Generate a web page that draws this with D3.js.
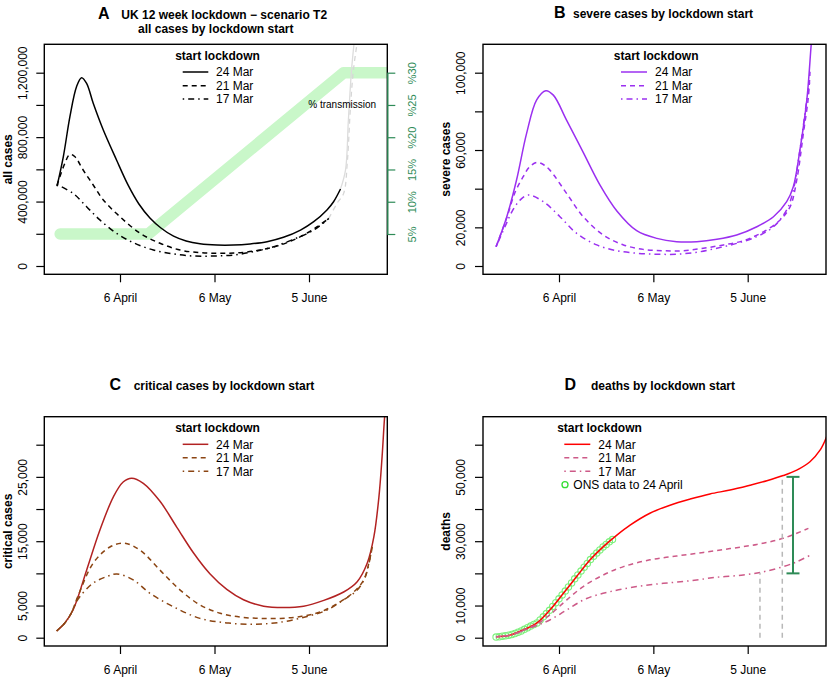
<!DOCTYPE html>
<html><head><meta charset="utf-8">
<script src="https://cdn.jsdelivr.net/npm/d3@7"></script>
<style>body{margin:0;background:#fff}</style>
</head><body><svg id="c" width="829" height="679"></svg>
<script>
// ---------- DATA ----------
// x values are day-of-year 2020 (6 April = 97)
const tickDays = [97, 127, 157];
const tickLabels = ["6 April", "6 May", "5 June"];
const legendLabels = ["24 Mar", "21 Mar", "17 Mar"];
const legendTitle = "start lockdown";

// Panel A: all cases (thousands)
const aDays24 = [77, 79, 81.1, 83.2, 84.8, 86.4, 88.5, 91.7, 95.9, 99.5, 103, 106.5, 110, 114, 118, 122.4, 127.8, 133, 138.3, 143.7, 148.9, 154.3, 158.5, 162.7, 164.8, 167];
const aVals24 = [495, 678, 927, 1113, 1169, 1134, 1010, 844, 658, 505, 385, 298, 236, 185, 155, 138, 130, 130, 137, 151, 178, 223, 275, 348, 399, 478];
const aDays21 = [77, 79.5, 81.1, 82.7, 85.3, 88.5, 91.7, 97, 103.4, 109.7, 116.1, 122.4, 128.8, 135.2, 141.5, 147.9, 154.3, 159.6, 163.3];
const aVals21 = [500, 638, 693, 678, 596, 503, 410, 306, 203, 141, 99, 83, 79, 83, 99, 130, 182, 244, 296];
const aDays17 = [77, 82.1, 86.4, 90.6, 95.9, 101.2, 107.6, 113.9, 120.3, 126.7, 133, 139.4, 145.8, 152.1, 158.5, 163.3];
const aVals17 = [505, 451, 368, 286, 203, 145, 99, 75, 62, 62, 68, 89, 120, 166, 223, 296];
const aGreyDays24 = [167, 168.6, 169.5, 170.5, 171.4];
const aGreyVals24 = [478, 597, 906, 1217, 1400];
const aGreyDays21 = [163.3, 165.9, 168, 169.2, 170.1, 171.1, 172.4];
const aGreyVals21 = [296, 389, 451, 658, 968, 1217, 1400];
const transDays = [78, 106, 168, 190];
const transPct = [5, 5, 30, 30];
const aYTicks = [0, 200, 400, 600, 800, 1000, 1200];
const aYLabels = ["0", "", "400,000", "", "800,000", "", "1,200,000"];
const pctTicks = [5, 10, 15, 20, 25, 30];
const pctLabels = ["5%", "10%", "15%", "%20", "%25", "%30"];

// Panel B: severe cases (thousands)
const bDays24 = [77, 80.4, 83.5, 86.7, 89.9, 92.8, 95.2, 99.4, 104.7, 110, 115.4, 121.7, 128.1, 134.4, 140.8, 147.2, 153.5, 159.9, 165.2, 169.4, 171.5, 173.6, 175.8, 177.2, 178.5];
const bVals24 = [10, 25.5, 44.5, 68.6, 85.9, 90.7, 88.4, 75.5, 58.8, 42, 28.5, 18.3, 14.3, 12.6, 12.6, 13.8, 16, 20.3, 25.5, 33.3, 41, 60, 85.9, 114.7, 140];
const bDays21 = [77, 80.4, 83, 85.6, 87.5, 89.9, 92, 94.1, 99.4, 104.7, 111.1, 117.5, 123.8, 130.2, 136.5, 142.9, 149.3, 155.6, 162, 167.3, 170.5, 172.6, 174.7, 176.3, 176.8];
const bVals21 = [10, 25, 38, 46.2, 51, 53.6, 52.5, 49.6, 37.6, 25.5, 16, 10.9, 8.6, 7.9, 7.9, 9.2, 10.9, 13.1, 17.7, 23.8, 30.7, 44.5, 68.6, 87.6, 100.5];
const bDays17 = [77, 80, 82, 84.6, 87.2, 92, 97.3, 102.6, 109, 115.4, 121.7, 128.1, 134.4, 140.8, 147.2, 153.5, 159.9, 165.2, 169.4, 171.5, 173.6, 175.8, 176.8];
const bVals17 = [10, 21, 28, 34.1, 36.7, 33.3, 25.5, 16.9, 10.9, 7.9, 6.6, 6.1, 6.1, 7.1, 9.2, 11.7, 15.2, 20.3, 29, 39.3, 60, 85.9, 96.2];
const bYTicks = [0, 20, 40, 60, 80, 100];
const bYLabels = ["0", "20,000", "", "60,000", "", "100,000"];

// Panel C: critical cases (thousands)
const cDays24 = [76.9, 79.5, 82.1, 86.4, 90.6, 94.9, 98, 100.7, 104.4, 109.7, 115, 120.3, 125.6, 130.9, 136.2, 142.6, 148.9, 155.3, 161.7, 168, 172.3, 175.5, 177.6, 179.2, 180.2, 181, 182];
const cVals24 = [1.04, 2.3, 4.3, 10.5, 16.7, 21.9, 24.2, 24.8, 24, 21.2, 17.2, 13.2, 9.9, 7.5, 5.9, 4.9, 4.7, 4.9, 5.8, 7.1, 8.7, 11.6, 15.7, 21.9, 28.1, 34.3, 40];
const cDays21 = [76.9, 79.5, 81.5, 83.7, 88.5, 93.8, 98.3, 103.4, 109.7, 116.1, 122.4, 128.8, 135.2, 141.5, 147.9, 154.3, 160.6, 167, 171.2, 174.4, 176, 177.1];
const cVals21 = [1.04, 2.3, 3.8, 6.5, 11.6, 14.1, 14.7, 13.6, 10.5, 7.4, 5.1, 3.8, 3.2, 3.0, 3.0, 3.3, 4.0, 5.6, 7.1, 9.0, 11.6, 14.1];
const cDays17 = [76.9, 79.5, 81.5, 83.7, 88.5, 92.8, 96, 101.2, 106.5, 114, 122.4, 130.9, 139.4, 147.9, 156.4, 162.7, 168, 172.3, 174.9, 176.5, 177.1];
const cVals17 = [1.04, 2.3, 3.8, 6.0, 8.5, 9.5, 9.9, 9.0, 6.9, 4.8, 3.0, 2.3, 2.1, 2.4, 3.3, 4.3, 5.9, 7.4, 9.5, 12.6, 14.1];
const cYTicks = [0, 5, 10, 15, 20, 25, 30];
const cYLabels = ["0", "5,000", "", "15,000", "", "25,000", ""];

// Panel D: deaths (thousands)
const dDays24 = [77, 81.4, 85.6, 89.9, 94.1, 98.4, 102.6, 106.9, 111.1, 115.4, 119.6, 125.9, 132.3, 138.7, 145, 151.4, 157.7, 163.1, 168.3, 172.6, 176.8, 180, 181.9, 183];
const dVals24 = [0.3, 0.8, 2.4, 4.5, 8.6, 13.8, 19.0, 24.2, 28.3, 31.9, 35.0, 38.7, 41.2, 43.1, 44.7, 45.9, 47.4, 48.8, 50.4, 52.1, 54.7, 58.3, 62.0, 65];
const dDays21 = [77, 81.4, 85.6, 89.9, 94.1, 99.4, 104.7, 111.1, 117.5, 125.9, 134.4, 142.9, 151.4, 159.9, 168.3, 176.3];
const dVals21 = [0.3, 0.8, 2.3, 4.2, 7.1, 11.7, 15.9, 19.5, 22.1, 24.2, 25.4, 26.5, 27.7, 29.0, 30.9, 34.0];
const dDays17 = [77, 81.4, 85.6, 89.9, 94.1, 99.4, 105.8, 113.2, 121.7, 130.2, 138.7, 147.2, 155.6, 162, 168.3, 172.6, 176.6];
const dVals17 = [0.3, 0.8, 2.2, 3.8, 5.5, 8.6, 12.2, 14.3, 15.9, 16.9, 17.7, 18.8, 19.5, 20.5, 22.1, 23.6, 25.5];
const onsDays = [77, 78, 79, 80, 81, 82, 83, 84, 85, 86, 87, 88, 89, 90, 91, 92, 93, 94, 95, 96, 97, 98, 99, 100, 101, 102, 103, 104, 105, 106, 107, 108, 109, 110, 111, 112, 113, 114];
const onsVals = [0.2, 0.3, 0.45, 0.6, 0.8, 1.0, 1.3, 1.7, 2.1, 2.6, 3.1, 3.6, 4.1, 4.6, 5.5, 6.5, 7.5, 8.5, 9.7, 10.9, 12.1, 13.3, 14.5, 15.8, 17.0, 18.3, 19.5, 20.7, 21.9, 23.1, 24.3, 25.3, 26.3, 27.3, 28.2, 29.0, 29.8, 30.5];
const refDays = [160.9, 168.0];
const refTops = [20.2, 50.0];
const rangeDay = 171.4;
const rangeLow = 20, rangeHigh = 50;
const dYTicks = [0, 10, 20, 30, 40, 50, 60];
const dYLabels = ["0", "10,000", "", "30,000", "", "50,000", ""];

// ---------- DRAWING ----------
const FONT = '"Liberation Sans", Arimo, Arial, Helvetica, sans-serif';
const svg = d3.select("#c").style("font-family", FONT);
const DASH = "5,4", DOTDASH = "1.5,4,6,4";
const CURVE = d3.curveCatmullRom.alpha(0.5);

function zip(ds, vs) { return ds.map((d, i) => [d, vs[i]]); }

function panel(cfg) {
  const g = svg.append("g");
  const x = d3.scaleLinear().domain([97, 157]).range(cfg.xr);
  const y = d3.scaleLinear().domain(cfg.yd).range(cfg.yr);
  const b = cfg.box;
  const cid = "clip" + cfg.id;
  g.append("clipPath").attr("id", cid).append("rect")
    .attr("x", b.l).attr("y", b.t).attr("width", b.r - b.l).attr("height", b.b - b.t);
  const plot = g.append("g").attr("clip-path", `url(#${cid})`);
  const line = d3.line().x(d => x(d[0])).y(d => y(d[1])).curve(CURVE);
  if (cfg.before) cfg.before(plot, x, y);
  cfg.series.forEach(s => {
    plot.append("path").attr("d", line(zip(s.days, s.vals)))
      .attr("fill", "none").attr("stroke", s.color).attr("stroke-width", 1.5)
      .attr("stroke-dasharray", s.dash || null);
  });
  if (cfg.after) cfg.after(plot, x, y, g);
  // box
  g.append("rect").attr("x", b.l).attr("y", b.t).attr("width", b.r - b.l).attr("height", b.b - b.t)
    .attr("fill", "none").attr("stroke", "#000").attr("stroke-width", 1.4);
  // x axis
  const xa = g.append("g").attr("transform", `translate(0,${b.b})`)
    .call(d3.axisBottom(x).tickValues(tickDays).tickFormat((d, i) => tickLabels[i]).tickSize(8).tickPadding(11));
  xa.select(".domain").remove();
  xa.attr("font-size", 12).attr("font-family", FONT);
  xa.selectAll("line").attr("stroke-width", 1.2);
  // y axis
  const ya = g.append("g").attr("transform", `translate(${b.l},0)`)
    .call(d3.axisLeft(y).tickValues(cfg.yTicks).tickFormat((d, i) => cfg.yLabels[i]).tickSize(8));
  ya.select(".domain").remove();
  ya.attr("font-size", 12).attr("font-family", FONT);
  ya.selectAll("line").attr("stroke-width", 1.2);
  ya.selectAll("text").attr("x", null).attr("dy", "0.35em").attr("text-anchor", "middle")
    .attr("transform", `translate(${cfg.labelX - b.l},0) rotate(-90)`);
  // y title
  g.append("text").attr("transform", `translate(${cfg.yTitleX},${(b.t + b.b) / 2}) rotate(-90)`)
    .attr("dy", "0.35em").attr("text-anchor", "middle").attr("font-weight", "bold").attr("font-size", 12)
    .text(cfg.yTitle);
  // panel letter & title
  g.append("text").attr("x", cfg.letterX).attr("y", cfg.titleY).attr("font-size", 16).attr("font-weight", "bold").text(cfg.letter);
  cfg.titles.forEach(t => {
    g.append("text").attr("x", t.x).attr("y", t.y).attr("text-anchor", "middle")
      .attr("font-size", 12).attr("font-weight", "bold").text(t.text);
  });
  // legend
  const L = cfg.legend;
  g.append("text").attr("x", L.titleX).attr("y", L.titleY).attr("text-anchor", "middle")
    .attr("font-size", 12).attr("font-weight", "bold").text(legendTitle);
  cfg.series.slice(0, 3).forEach((s, i) => {
    g.append("line").attr("x1", L.x1).attr("x2", L.x2).attr("y1", L.ys[i]).attr("y2", L.ys[i])
      .attr("stroke", s.color).attr("stroke-width", 1.5).attr("stroke-dasharray", s.dash || null);
    g.append("text").attr("x", L.lx).attr("y", L.ys[i] + 4.3).attr("font-size", 12).text(legendLabels[i]);
  });
  return {g, x, y};
}

// Panel A
panel({
  id: "A", box: {l: 44.3, r: 387.3, t: 44.3, b: 274.3}, xr: [120, 309], yd: [0, 1200], yr: [266, 72.7],
  yTicks: aYTicks, yLabels: aYLabels, labelX: 22.5, yTitle: "all cases", yTitleX: 7.5,
  letter: "A", letterX: 98, titleY: 18.5,
  titles: [{x: 224.2, y: 19, text: "UK 12 week lockdown \u2212 scenario T2"}, {x: 215.8, y: 33.3, text: "all cases by lockdown start"}],
  legend: {titleX: 217.5, titleY: 60, x1: 182.7, x2: 208.3, ys: [72, 85.7, 99], lx: 216},
  before: (plot, x, y) => {
    const p = d3.scaleLinear().domain([5, 30]).range([234, 72.7]);
    plot.append("path").attr("d", d3.line().x(d => x(d[0])).y(d => p(d[1]))(zip(transDays, transPct)))
      .attr("fill", "none").attr("stroke", "#c9f7c9").attr("stroke-width", 11.5)
      .attr("stroke-linecap", "round").attr("stroke-linejoin", "round");
    const line = d3.line().x(d => x(d[0])).y(d => y(d[1])).curve(CURVE);
    plot.append("path").attr("d", line(zip(aGreyDays21, aGreyVals21))).attr("fill", "none")
      .attr("stroke", "#d6d6d6").attr("stroke-width", 1.3).attr("stroke-dasharray", DASH);
    plot.append("path").attr("d", line(zip(aGreyDays24, aGreyVals24))).attr("fill", "none")
      .attr("stroke", "#dcdcdc").attr("stroke-width", 1.3);
  },
  series: [
    {days: aDays24, vals: aVals24, color: "#000"},
    {days: aDays21, vals: aVals21, color: "#000", dash: DASH},
    {days: aDays17, vals: aVals17, color: "#000", dash: DOTDASH}
  ]
});
// right axis A
{
  const p = d3.scaleLinear().domain([5, 30]).range([234, 72.7]);
  const G = "#2e8b57";
  const ra = svg.append("g").attr("transform", "translate(387.3,0)")
    .call(d3.axisRight(p).tickValues(pctTicks).tickFormat((d, i) => pctLabels[i]).tickSize(8).tickSizeOuter(0));
  ra.attr("font-size", 11).attr("font-family", FONT).attr("color", G);
  ra.select(".domain").attr("stroke-width", 1.4);
  ra.selectAll("line").attr("stroke-width", 1.2);
  ra.selectAll("text").attr("x", null).attr("dy", "0.35em").attr("text-anchor", "middle")
    .attr("transform", "translate(25,0) rotate(-90)");
  svg.append("text").attr("x", 342.2).attr("y", 107.5).attr("text-anchor", "middle")
    .attr("font-size", 10).text("% transmission");
}

// Panel B
const PUR = "#9b30f0";
panel({
  id: "B", box: {l: 483, r: 826, t: 44.3, b: 274.3}, xr: [559, 747.7], yd: [0, 100], yr: [266, 72.7],
  yTicks: bYTicks, yLabels: bYLabels, labelX: 461.2, yTitle: "severe cases", yTitleX: 446,
  letter: "B", letterX: 554, titleY: 18,
  titles: [{x: 663, y: 18, text: "severe cases by lockdown start"}],
  legend: {titleX: 656.2, titleY: 60, x1: 621, x2: 647, ys: [72, 85.7, 99], lx: 655},
  series: [
    {days: bDays24, vals: bVals24, color: PUR},
    {days: bDays21, vals: bVals21, color: PUR, dash: DASH},
    {days: bDays17, vals: bVals17, color: PUR, dash: DOTDASH}
  ]
});

// Panel C
panel({
  id: "C", box: {l: 44.3, r: 387.3, t: 416.7, b: 646}, xr: [120, 309], yd: [0, 30], yr: [637.7, 444.7],
  yTicks: cYTicks, yLabels: cYLabels, labelX: 22.5, yTitle: "critical cases", yTitleX: 7.5,
  letter: "C", letterX: 109.5, titleY: 390,
  titles: [{x: 224, y: 389.5, text: "critical cases by lockdown start"}],
  legend: {titleX: 217.5, titleY: 432, x1: 182.7, x2: 208.3, ys: [444.3, 457.7, 471.3], lx: 216},
  series: [
    {days: cDays24, vals: cVals24, color: "#b22222"},
    {days: cDays21, vals: cVals21, color: "#8b4513", dash: DASH},
    {days: cDays17, vals: cVals17, color: "#8b4513", dash: DOTDASH}
  ]
});

// Panel D
const PINK = "#cd5a88";
panel({
  id: "D", box: {l: 483, r: 826, t: 416.7, b: 646}, xr: [559, 747.7], yd: [0, 60], yr: [637.7, 444.7],
  yTicks: dYTicks, yLabels: dYLabels, labelX: 461.2, yTitle: "deaths", yTitleX: 446,
  letter: "D", letterX: 564.5, titleY: 390,
  titles: [{x: 663, y: 389.5, text: "deaths by lockdown start"}],
  legend: {titleX: 599.5, titleY: 432, x1: 564.3, x2: 590.3, ys: [444.3, 457.7, 471.3], lx: 598.3},
  before: (plot, x, y) => {
    plot.selectAll("circle.ons").data(zip(onsDays, onsVals)).enter().append("circle")
      .attr("cx", d => x(d[0])).attr("cy", d => y(d[1])).attr("r", 3.2)
      .attr("fill", "none").attr("stroke", "#7cf07c").attr("stroke-width", 1.1);
  },
  after: (plot, x, y, g) => {
    refDays.forEach((d, i) => {
      g.append("line").attr("x1", x(d)).attr("x2", x(d)).attr("y1", y(0)).attr("y2", y(refTops[i]))
        .attr("stroke", "#b8b8b8").attr("stroke-width", 1.5).attr("stroke-dasharray", "5,4");
    });
    const GR = "#2e8b57", xe = x(rangeDay);
    g.append("line").attr("x1", xe).attr("x2", xe).attr("y1", y(rangeLow)).attr("y2", y(rangeHigh)).attr("stroke", GR).attr("stroke-width", 2);
    [rangeLow, rangeHigh].forEach(v => g.append("line").attr("x1", xe - 6.5).attr("x2", xe + 6.5)
      .attr("y1", y(v)).attr("y2", y(v)).attr("stroke", GR).attr("stroke-width", 2));
  },
  series: [
    {days: dDays24, vals: dVals24, color: "#ff0000"},
    {days: dDays21, vals: dVals21, color: PINK, dash: DASH},
    {days: dDays17, vals: dVals17, color: PINK, dash: DOTDASH}
  ]
});
// ONS legend entry
svg.append("circle").attr("cx", 565).attr("cy", 484.7).attr("r", 3).attr("fill", "none").attr("stroke", "#33dd33").attr("stroke-width", 1.3);
svg.append("text").attr("x", 573.3).attr("y", 489).attr("font-size", 12).attr("font-family", FONT).text("ONS data to 24 April");
</script>
</body></html>
